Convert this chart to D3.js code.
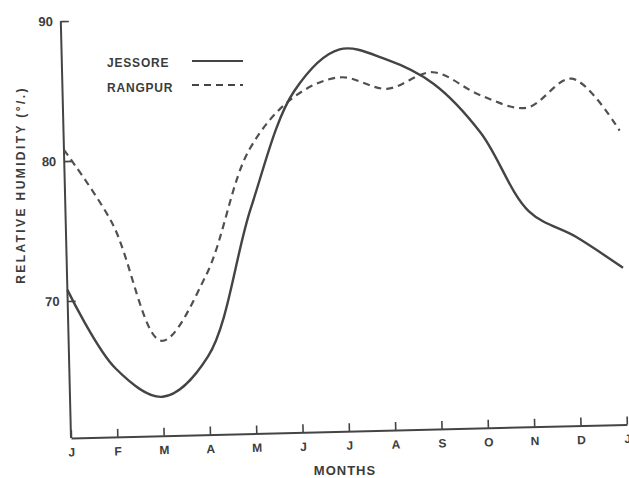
<!DOCTYPE html>
<html>
<head>
<meta charset="utf-8">
<script src="https://cdn.jsdelivr.net/npm/d3@7"></script>
<style>
  html, body { margin: 0; padding: 0; background: #fff; }
  text { font-family: "Liberation Sans", "DejaVu Sans", sans-serif; fill: #3c3c3c; font-weight: bold; }
</style>
</head>
<body>
<div id="chart"></div>
<script>
const months = ['J', 'F', 'M', 'A', 'M', 'J', 'J', 'A', 'S', 'O', 'N', 'D', 'J'];
const jessore = [70.8, 65.1, 63.0, 65.8, 76.3, 84.6, 87.5, 86.7, 84.9, 81.3, 75.6, 73.7, 71.4];
const rangpur = [80.8, 75.5, 67.0, 71.6, 80.5, 84.2, 85.5, 84.6, 85.7, 84.0, 83.0, 85.0, 81.2];
const yTicks = [70, 80, 90];
const seriesNames = ['JESSORE', 'RANGPUR'];

const width = 629, height = 478;
const ink = '#444';

const svg = d3.select('#chart').append('svg')
  .attr('width', width)
  .attr('height', height);

// the scanned figure sits a little tilted, so the plot is turned about its corner
const g = svg.append('g')
  .attr('transform', 'translate(71,438) rotate(-1.4)');

const x = d3.scaleLinear().domain([0, months.length - 1]).range([0, 556]);
const y = d3.scaleLinear().domain([60, 90]).range([3, -417]);

// y axis
g.append('line')
  .attr('x1', 0).attr('y1', 0)
  .attr('x2', 0).attr('y2', y(90))
  .attr('stroke', ink).attr('stroke-width', 2);

const yAxis = g.append('g')
  .call(d3.axisLeft(y).tickValues(yTicks).tickSizeInner(-8).tickSizeOuter(0).tickPadding(8));
yAxis.select('.domain').remove();
yAxis.selectAll('line').attr('stroke', ink).attr('stroke-width', 1.6);
yAxis.selectAll('text')
  .style('font-family', '"Liberation Sans", sans-serif')
  .style('font-size', '13px')
  .style('font-weight', 'bold')
  .attr('fill', '#3c3c3c');

// x axis
const xAxis = g.append('g')
  .call(d3.axisBottom(x)
    .tickValues(d3.range(months.length))
    .tickFormat(i => months[i])
    .tickSizeInner(-8).tickSizeOuter(0).tickPadding(10));
xAxis.select('.domain').attr('stroke', ink).attr('stroke-width', 2);
xAxis.selectAll('line').attr('stroke', ink).attr('stroke-width', 1.6);
xAxis.selectAll('text')
  .style('font-family', '"Liberation Sans", sans-serif')
  .style('font-size', '12px')
  .style('font-weight', 'bold')
  .attr('fill', '#3c3c3c');

// curves
const line = d3.line()
  .x((d, i) => x(i))
  .y(d => y(d))
  .curve(d3.curveCatmullRom.alpha(0.5));

g.append('path')
  .datum(rangpur)
  .attr('d', line)
  .attr('fill', 'none')
  .attr('stroke', '#505050')
  .attr('stroke-width', 2.2)
  .attr('stroke-dasharray', '7,5');

g.append('path')
  .datum(jessore)
  .attr('d', line)
  .attr('fill', 'none')
  .attr('stroke', '#444')
  .attr('stroke-width', 2.4);

// legend
const legend = svg.append('g');
legend.selectAll('text')
  .data(seriesNames)
  .join('text')
  .attr('x', 107)
  .attr('y', (d, i) => 67 + i * 25)
  .style('font-size', '12px')
  .style('letter-spacing', '0.8px')
  .text(d => d);

legend.selectAll('line')
  .data(seriesNames)
  .join('line')
  .attr('x1', 192).attr('x2', 243)
  .attr('y1', (d, i) => 61 + i * 24)
  .attr('y2', (d, i) => 61 + i * 24)
  .attr('stroke', '#444')
  .attr('stroke-width', 2.2)
  .attr('stroke-dasharray', (d, i) => i === 0 ? null : '7,5');

// axis titles
svg.append('text')
  .attr('transform', 'translate(25,185) rotate(-90)')
  .attr('text-anchor', 'middle')
  .style('font-size', '12px')
  .style('letter-spacing', '2.4px')
  .text('RELATIVE  HUMIDITY (°/.)');

svg.append('text')
  .attr('x', 345)
  .attr('y', 475)
  .attr('text-anchor', 'middle')
  .style('font-size', '13px')
  .style('letter-spacing', '1px')
  .text('MONTHS');
</script>
</body>
</html>
